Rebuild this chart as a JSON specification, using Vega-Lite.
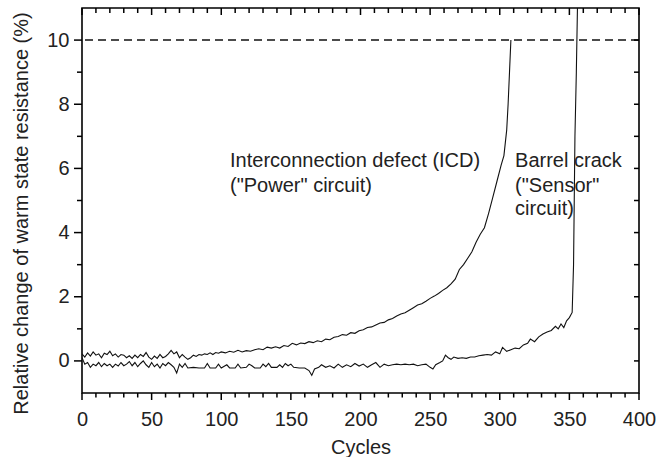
{
  "$schema": "https://vega.github.io/schema/vega-lite/v6.json",
  "width": 557,
  "height": 385,
  "autosize": {"type": "none"},
  "padding": {"left": 82, "top": 8, "right": 21, "bottom": 64},
  "background": "white",
  "config": {
    "view": {"stroke": "#000", "strokeWidth": 1.6},
    "font": "Liberation Sans",
    "axis": {
      "grid": false,
      "ticks": false,
      "tickSize": 0,
      "domain": false,
      "labelFont": "Liberation Sans",
      "labelFontSize": 20,
      "labelColor": "#222",
      "titleFont": "Liberation Sans",
      "titleFontSize": 20,
      "titleFontWeight": "normal",
      "titleColor": "#222",
      "labelOverlap": false,
      "labelFlush": false
    }
  },
  "datasets": {
    "curves": [
      {"series": "Power", "cycle": 0, "value": 0.22}, {"series": "Power", "cycle": 2, "value": 0.12}, {"series": "Power", "cycle": 4, "value": 0.25}, {"series": "Power", "cycle": 6, "value": 0.15}, {"series": "Power", "cycle": 8, "value": 0.28}, {"series": "Power", "cycle": 10, "value": 0.18}, {"series": "Power", "cycle": 12, "value": 0.22}, {"series": "Power", "cycle": 14, "value": 0.1}, {"series": "Power", "cycle": 16, "value": 0.24}, {"series": "Power", "cycle": 18, "value": 0.2}, {"series": "Power", "cycle": 20, "value": 0.3}, {"series": "Power", "cycle": 22, "value": 0.16}, {"series": "Power", "cycle": 24, "value": 0.22}, {"series": "Power", "cycle": 26, "value": 0.12}, {"series": "Power", "cycle": 28, "value": 0.2}, {"series": "Power", "cycle": 30, "value": 0.18}, {"series": "Power", "cycle": 32, "value": 0.1}, {"series": "Power", "cycle": 34, "value": 0.16}, {"series": "Power", "cycle": 36, "value": 0.08}, {"series": "Power", "cycle": 38, "value": 0.18}, {"series": "Power", "cycle": 40, "value": 0.1}, {"series": "Power", "cycle": 42, "value": 0.2}, {"series": "Power", "cycle": 44, "value": 0.14}, {"series": "Power", "cycle": 46, "value": 0.26}, {"series": "Power", "cycle": 48, "value": 0.12}, {"series": "Power", "cycle": 50, "value": 0.05}, {"series": "Power", "cycle": 52, "value": 0.15}, {"series": "Power", "cycle": 54, "value": 0.08}, {"series": "Power", "cycle": 56, "value": 0.2}, {"series": "Power", "cycle": 58, "value": 0.1}, {"series": "Power", "cycle": 60, "value": 0.14}, {"series": "Power", "cycle": 62, "value": 0.22}, {"series": "Power", "cycle": 64, "value": 0.33}, {"series": "Power", "cycle": 66, "value": 0.22}, {"series": "Power", "cycle": 68, "value": 0.28}, {"series": "Power", "cycle": 70, "value": 0.1}, {"series": "Power", "cycle": 72, "value": 0.2}, {"series": "Power", "cycle": 74, "value": 0.12}, {"series": "Power", "cycle": 76, "value": 0.05}, {"series": "Power", "cycle": 78, "value": 0.1}, {"series": "Power", "cycle": 80, "value": 0.18}, {"series": "Power", "cycle": 82, "value": 0.14}, {"series": "Power", "cycle": 84, "value": 0.2}, {"series": "Power", "cycle": 86, "value": 0.18}, {"series": "Power", "cycle": 88, "value": 0.22}, {"series": "Power", "cycle": 90, "value": 0.2}, {"series": "Power", "cycle": 92, "value": 0.25}, {"series": "Power", "cycle": 94, "value": 0.2}, {"series": "Power", "cycle": 96, "value": 0.26}, {"series": "Power", "cycle": 98, "value": 0.24}, {"series": "Power", "cycle": 100, "value": 0.28}, {"series": "Power", "cycle": 103, "value": 0.25}, {"series": "Power", "cycle": 106, "value": 0.3}, {"series": "Power", "cycle": 109, "value": 0.27}, {"series": "Power", "cycle": 112, "value": 0.33}, {"series": "Power", "cycle": 115, "value": 0.28}, {"series": "Power", "cycle": 118, "value": 0.32}, {"series": "Power", "cycle": 121, "value": 0.3}, {"series": "Power", "cycle": 124, "value": 0.35}, {"series": "Power", "cycle": 127, "value": 0.38}, {"series": "Power", "cycle": 130, "value": 0.35}, {"series": "Power", "cycle": 133, "value": 0.43}, {"series": "Power", "cycle": 136, "value": 0.4}, {"series": "Power", "cycle": 139, "value": 0.44}, {"series": "Power", "cycle": 142, "value": 0.4}, {"series": "Power", "cycle": 145, "value": 0.48}, {"series": "Power", "cycle": 148, "value": 0.45}, {"series": "Power", "cycle": 151, "value": 0.55}, {"series": "Power", "cycle": 154, "value": 0.5}, {"series": "Power", "cycle": 157, "value": 0.56}, {"series": "Power", "cycle": 160, "value": 0.54}, {"series": "Power", "cycle": 163, "value": 0.6}, {"series": "Power", "cycle": 166, "value": 0.57}, {"series": "Power", "cycle": 169, "value": 0.63}, {"series": "Power", "cycle": 172, "value": 0.6}, {"series": "Power", "cycle": 175, "value": 0.68}, {"series": "Power", "cycle": 178, "value": 0.66}, {"series": "Power", "cycle": 181, "value": 0.74}, {"series": "Power", "cycle": 184, "value": 0.76}, {"series": "Power", "cycle": 187, "value": 0.82}, {"series": "Power", "cycle": 190, "value": 0.8}, {"series": "Power", "cycle": 193, "value": 0.88}, {"series": "Power", "cycle": 196, "value": 0.86}, {"series": "Power", "cycle": 199, "value": 0.94}, {"series": "Power", "cycle": 202, "value": 0.97}, {"series": "Power", "cycle": 205, "value": 1.04}, {"series": "Power", "cycle": 208, "value": 1.06}, {"series": "Power", "cycle": 211, "value": 1.12}, {"series": "Power", "cycle": 214, "value": 1.18}, {"series": "Power", "cycle": 217, "value": 1.2}, {"series": "Power", "cycle": 220, "value": 1.28}, {"series": "Power", "cycle": 223, "value": 1.32}, {"series": "Power", "cycle": 226, "value": 1.4}, {"series": "Power", "cycle": 229, "value": 1.46}, {"series": "Power", "cycle": 232, "value": 1.5}, {"series": "Power", "cycle": 235, "value": 1.58}, {"series": "Power", "cycle": 238, "value": 1.66}, {"series": "Power", "cycle": 241, "value": 1.74}, {"series": "Power", "cycle": 244, "value": 1.78}, {"series": "Power", "cycle": 247, "value": 1.86}, {"series": "Power", "cycle": 250, "value": 1.95}, {"series": "Power", "cycle": 253, "value": 2.02}, {"series": "Power", "cycle": 256, "value": 2.1}, {"series": "Power", "cycle": 259, "value": 2.2}, {"series": "Power", "cycle": 262, "value": 2.28}, {"series": "Power", "cycle": 265, "value": 2.4}, {"series": "Power", "cycle": 268, "value": 2.55}, {"series": "Power", "cycle": 271, "value": 2.85}, {"series": "Power", "cycle": 274, "value": 3.0}, {"series": "Power", "cycle": 277, "value": 3.2}, {"series": "Power", "cycle": 280, "value": 3.4}, {"series": "Power", "cycle": 283, "value": 3.7}, {"series": "Power", "cycle": 286, "value": 3.95}, {"series": "Power", "cycle": 289, "value": 4.15}, {"series": "Power", "cycle": 292, "value": 4.6}, {"series": "Power", "cycle": 295, "value": 5.1}, {"series": "Power", "cycle": 298, "value": 5.6}, {"series": "Power", "cycle": 301, "value": 6.1}, {"series": "Power", "cycle": 303, "value": 6.4}, {"series": "Power", "cycle": 305, "value": 7.2}, {"series": "Power", "cycle": 306, "value": 8.0}, {"series": "Power", "cycle": 307, "value": 9.0}, {"series": "Power", "cycle": 308, "value": 10.0},
      {"series": "Sensor", "cycle": 0, "value": 0.1}, {"series": "Sensor", "cycle": 2, "value": -0.1}, {"series": "Sensor", "cycle": 4, "value": -0.05}, {"series": "Sensor", "cycle": 6, "value": -0.2}, {"series": "Sensor", "cycle": 8, "value": -0.1}, {"series": "Sensor", "cycle": 10, "value": -0.15}, {"series": "Sensor", "cycle": 12, "value": -0.05}, {"series": "Sensor", "cycle": 14, "value": -0.18}, {"series": "Sensor", "cycle": 16, "value": -0.08}, {"series": "Sensor", "cycle": 18, "value": -0.15}, {"series": "Sensor", "cycle": 20, "value": -0.1}, {"series": "Sensor", "cycle": 22, "value": -0.2}, {"series": "Sensor", "cycle": 24, "value": -0.1}, {"series": "Sensor", "cycle": 26, "value": -0.16}, {"series": "Sensor", "cycle": 28, "value": -0.05}, {"series": "Sensor", "cycle": 30, "value": -0.15}, {"series": "Sensor", "cycle": 32, "value": -0.1}, {"series": "Sensor", "cycle": 34, "value": -0.02}, {"series": "Sensor", "cycle": 36, "value": -0.15}, {"series": "Sensor", "cycle": 38, "value": -0.05}, {"series": "Sensor", "cycle": 40, "value": -0.18}, {"series": "Sensor", "cycle": 42, "value": -0.08}, {"series": "Sensor", "cycle": 44, "value": 0.0}, {"series": "Sensor", "cycle": 46, "value": -0.12}, {"series": "Sensor", "cycle": 48, "value": -0.2}, {"series": "Sensor", "cycle": 50, "value": -0.05}, {"series": "Sensor", "cycle": 52, "value": -0.18}, {"series": "Sensor", "cycle": 54, "value": -0.1}, {"series": "Sensor", "cycle": 56, "value": -0.22}, {"series": "Sensor", "cycle": 58, "value": -0.08}, {"series": "Sensor", "cycle": 60, "value": -0.15}, {"series": "Sensor", "cycle": 62, "value": -0.05}, {"series": "Sensor", "cycle": 64, "value": -0.12}, {"series": "Sensor", "cycle": 66, "value": -0.2}, {"series": "Sensor", "cycle": 68, "value": -0.38}, {"series": "Sensor", "cycle": 70, "value": -0.1}, {"series": "Sensor", "cycle": 72, "value": -0.2}, {"series": "Sensor", "cycle": 74, "value": -0.08}, {"series": "Sensor", "cycle": 76, "value": -0.22}, {"series": "Sensor", "cycle": 80, "value": -0.2}, {"series": "Sensor", "cycle": 84, "value": -0.22}, {"series": "Sensor", "cycle": 88, "value": -0.22}, {"series": "Sensor", "cycle": 90, "value": -0.08}, {"series": "Sensor", "cycle": 92, "value": -0.22}, {"series": "Sensor", "cycle": 96, "value": -0.22}, {"series": "Sensor", "cycle": 98, "value": -0.1}, {"series": "Sensor", "cycle": 100, "value": -0.22}, {"series": "Sensor", "cycle": 104, "value": -0.12}, {"series": "Sensor", "cycle": 106, "value": -0.22}, {"series": "Sensor", "cycle": 110, "value": -0.22}, {"series": "Sensor", "cycle": 112, "value": -0.1}, {"series": "Sensor", "cycle": 114, "value": -0.22}, {"series": "Sensor", "cycle": 118, "value": -0.2}, {"series": "Sensor", "cycle": 120, "value": -0.1}, {"series": "Sensor", "cycle": 122, "value": -0.15}, {"series": "Sensor", "cycle": 124, "value": -0.22}, {"series": "Sensor", "cycle": 128, "value": -0.22}, {"series": "Sensor", "cycle": 130, "value": -0.1}, {"series": "Sensor", "cycle": 132, "value": -0.18}, {"series": "Sensor", "cycle": 134, "value": -0.08}, {"series": "Sensor", "cycle": 136, "value": -0.2}, {"series": "Sensor", "cycle": 140, "value": -0.2}, {"series": "Sensor", "cycle": 142, "value": -0.12}, {"series": "Sensor", "cycle": 144, "value": -0.2}, {"series": "Sensor", "cycle": 146, "value": -0.08}, {"series": "Sensor", "cycle": 148, "value": -0.15}, {"series": "Sensor", "cycle": 150, "value": -0.1}, {"series": "Sensor", "cycle": 152, "value": -0.2}, {"series": "Sensor", "cycle": 156, "value": -0.22}, {"series": "Sensor", "cycle": 160, "value": -0.22}, {"series": "Sensor", "cycle": 163, "value": -0.3}, {"series": "Sensor", "cycle": 165, "value": -0.45}, {"series": "Sensor", "cycle": 167, "value": -0.25}, {"series": "Sensor", "cycle": 170, "value": -0.2}, {"series": "Sensor", "cycle": 172, "value": -0.12}, {"series": "Sensor", "cycle": 175, "value": -0.2}, {"series": "Sensor", "cycle": 178, "value": -0.15}, {"series": "Sensor", "cycle": 181, "value": -0.22}, {"series": "Sensor", "cycle": 184, "value": -0.1}, {"series": "Sensor", "cycle": 187, "value": -0.2}, {"series": "Sensor", "cycle": 190, "value": -0.12}, {"series": "Sensor", "cycle": 193, "value": -0.18}, {"series": "Sensor", "cycle": 196, "value": -0.08}, {"series": "Sensor", "cycle": 199, "value": -0.16}, {"series": "Sensor", "cycle": 202, "value": -0.1}, {"series": "Sensor", "cycle": 205, "value": -0.2}, {"series": "Sensor", "cycle": 208, "value": -0.12}, {"series": "Sensor", "cycle": 211, "value": -0.05}, {"series": "Sensor", "cycle": 214, "value": -0.2}, {"series": "Sensor", "cycle": 217, "value": -0.1}, {"series": "Sensor", "cycle": 220, "value": -0.15}, {"series": "Sensor", "cycle": 223, "value": -0.12}, {"series": "Sensor", "cycle": 226, "value": -0.1}, {"series": "Sensor", "cycle": 229, "value": -0.12}, {"series": "Sensor", "cycle": 232, "value": -0.1}, {"series": "Sensor", "cycle": 235, "value": -0.12}, {"series": "Sensor", "cycle": 238, "value": -0.1}, {"series": "Sensor", "cycle": 241, "value": -0.15}, {"series": "Sensor", "cycle": 244, "value": -0.12}, {"series": "Sensor", "cycle": 247, "value": -0.1}, {"series": "Sensor", "cycle": 250, "value": -0.2}, {"series": "Sensor", "cycle": 252, "value": -0.25}, {"series": "Sensor", "cycle": 254, "value": -0.12}, {"series": "Sensor", "cycle": 257, "value": -0.05}, {"series": "Sensor", "cycle": 259, "value": 0.0}, {"series": "Sensor", "cycle": 261, "value": 0.18}, {"series": "Sensor", "cycle": 263, "value": 0.1}, {"series": "Sensor", "cycle": 265, "value": 0.05}, {"series": "Sensor", "cycle": 267, "value": 0.12}, {"series": "Sensor", "cycle": 270, "value": 0.08}, {"series": "Sensor", "cycle": 273, "value": 0.1}, {"series": "Sensor", "cycle": 276, "value": 0.08}, {"series": "Sensor", "cycle": 279, "value": 0.12}, {"series": "Sensor", "cycle": 282, "value": 0.12}, {"series": "Sensor", "cycle": 285, "value": 0.16}, {"series": "Sensor", "cycle": 288, "value": 0.18}, {"series": "Sensor", "cycle": 291, "value": 0.2}, {"series": "Sensor", "cycle": 294, "value": 0.18}, {"series": "Sensor", "cycle": 297, "value": 0.28}, {"series": "Sensor", "cycle": 300, "value": 0.22}, {"series": "Sensor", "cycle": 302, "value": 0.42}, {"series": "Sensor", "cycle": 305, "value": 0.3}, {"series": "Sensor", "cycle": 308, "value": 0.35}, {"series": "Sensor", "cycle": 311, "value": 0.4}, {"series": "Sensor", "cycle": 314, "value": 0.38}, {"series": "Sensor", "cycle": 317, "value": 0.5}, {"series": "Sensor", "cycle": 320, "value": 0.55}, {"series": "Sensor", "cycle": 322, "value": 0.68}, {"series": "Sensor", "cycle": 325, "value": 0.6}, {"series": "Sensor", "cycle": 328, "value": 0.75}, {"series": "Sensor", "cycle": 331, "value": 0.84}, {"series": "Sensor", "cycle": 334, "value": 0.9}, {"series": "Sensor", "cycle": 337, "value": 0.95}, {"series": "Sensor", "cycle": 340, "value": 1.08}, {"series": "Sensor", "cycle": 342, "value": 1.0}, {"series": "Sensor", "cycle": 344, "value": 1.15}, {"series": "Sensor", "cycle": 346, "value": 1.04}, {"series": "Sensor", "cycle": 348, "value": 1.25}, {"series": "Sensor", "cycle": 350, "value": 1.35}, {"series": "Sensor", "cycle": 352, "value": 1.51}, {"series": "Sensor", "cycle": 353, "value": 3.0}, {"series": "Sensor", "cycle": 353.5, "value": 5.0}, {"series": "Sensor", "cycle": 354, "value": 7.0}, {"series": "Sensor", "cycle": 355, "value": 9.0}, {"series": "Sensor", "cycle": 355.8, "value": 11.0}
    ],
    "notes": [
      {"cycle": 106.3, "value": 6.04, "label": "Interconnection defect (ICD)"},
      {"cycle": 106.3, "value": 5.28, "label": "(\"Power\" circuit)"},
      {"cycle": 311, "value": 6.05, "label": "Barrel crack"},
      {"cycle": 311, "value": 5.25, "label": "(\"Sensor\""},
      {"cycle": 311, "value": 4.54, "label": "circuit)"}
    ],
    "one": [{"level": 10}],
    "xmajor": [{"cycle": 0}, {"cycle": 50}, {"cycle": 100}, {"cycle": 150}, {"cycle": 200}, {"cycle": 250}, {"cycle": 300}, {"cycle": 350}, {"cycle": 400}],
    "xminor": [
      {"cycle": 10}, {"cycle": 20}, {"cycle": 30}, {"cycle": 40}, {"cycle": 60}, {"cycle": 70}, {"cycle": 80}, {"cycle": 90},
      {"cycle": 110}, {"cycle": 120}, {"cycle": 130}, {"cycle": 140}, {"cycle": 160}, {"cycle": 170}, {"cycle": 180}, {"cycle": 190},
      {"cycle": 210}, {"cycle": 220}, {"cycle": 230}, {"cycle": 240}, {"cycle": 260}, {"cycle": 270}, {"cycle": 280}, {"cycle": 290},
      {"cycle": 310}, {"cycle": 320}, {"cycle": 330}, {"cycle": 340}, {"cycle": 360}, {"cycle": 370}, {"cycle": 380}, {"cycle": 390}
    ],
    "ymajor": [{"value": 0}, {"value": 2}, {"value": 4}, {"value": 6}, {"value": 8}, {"value": 10}],
    "yminor": [{"value": 1}, {"value": 3}, {"value": 5}, {"value": 7}, {"value": 9}],
    "yall": [{"value": 0}, {"value": 1}, {"value": 2}, {"value": 3}, {"value": 4}, {"value": 5}, {"value": 6}, {"value": 7}, {"value": 8}, {"value": 9}, {"value": 10}]
  },
  "layer": [
    {
      "data": {"name": "curves"},
      "mark": {"type": "line", "color": "#111", "strokeWidth": 1.1, "clip": true},
      "encoding": {
        "x": {
          "field": "cycle", "type": "quantitative",
          "scale": {"domain": [0, 400], "nice": false, "zero": false},
          "axis": {
            "orient": "bottom", "title": "Cycles",
            "values": [0, 50, 100, 150, 200, 250, 300, 350, 400],
            "ticks": false, "tickSize": 0,
            "labelPadding": 16,
            "titleBaseline": "alphabetic",
            "titleY": 60
          }
        },
        "y": {
          "field": "value", "type": "quantitative",
          "scale": {"domain": [-1, 11], "nice": false, "zero": false},
          "axis": {
            "orient": "left", "title": "Relative change of warm state resistance (%)",
            "values": [0, 2, 4, 6, 8, 10],
            "ticks": false, "tickSize": 0,
            "labelPadding": 13,
            "titleBaseline": "alphabetic",
            "titleX": -55,
            "titleY": 205
          }
        },
        "detail": {"field": "series"}
      }
    },
    {
      "data": {"name": "one"},
      "mark": {"type": "rule", "color": "#111", "strokeWidth": 1.5, "strokeDash": [8, 5]},
      "encoding": {"y": {"field": "level", "type": "quantitative"}}
    },
    {
      "data": {"name": "notes"},
      "mark": {"type": "text", "align": "left", "baseline": "alphabetic", "fontSize": 20, "font": "Liberation Sans", "color": "#222"},
      "encoding": {
        "x": {"field": "cycle", "type": "quantitative"},
        "y": {"field": "value", "type": "quantitative"},
        "text": {"field": "label"}
      }
    },
    {
      "data": {"name": "xmajor"},
      "mark": {"type": "rule", "color": "#000", "strokeWidth": 1.5, "y2Offset": 7},
      "encoding": {"x": {"field": "cycle", "type": "quantitative"}, "y": {"value": "height"}, "y2": {"value": "height"}}
    },
    {
      "data": {"name": "xmajor"},
      "mark": {"type": "rule", "color": "#000", "strokeWidth": 1.5, "y2Offset": 7},
      "encoding": {"x": {"field": "cycle", "type": "quantitative"}, "y": {"value": 0}, "y2": {"value": 0}}
    },
    {
      "data": {"name": "xminor"},
      "mark": {"type": "rule", "color": "#000", "strokeWidth": 1.5, "y2Offset": 4.5},
      "encoding": {"x": {"field": "cycle", "type": "quantitative"}, "y": {"value": "height"}, "y2": {"value": "height"}}
    },
    {
      "data": {"name": "xminor"},
      "mark": {"type": "rule", "color": "#000", "strokeWidth": 1.5, "y2Offset": 5},
      "encoding": {"x": {"field": "cycle", "type": "quantitative"}, "y": {"value": 0}, "y2": {"value": 0}}
    },
    {
      "data": {"name": "ymajor"},
      "mark": {"type": "rule", "color": "#000", "strokeWidth": 1.5, "x2Offset": -8},
      "encoding": {"y": {"field": "value", "type": "quantitative"}, "x": {"value": 0}, "x2": {"value": 0}}
    },
    {
      "data": {"name": "yminor"},
      "mark": {"type": "rule", "color": "#000", "strokeWidth": 1.5, "x2Offset": -5},
      "encoding": {"y": {"field": "value", "type": "quantitative"}, "x": {"value": 0}, "x2": {"value": 0}}
    },
    {
      "data": {"name": "yall"},
      "mark": {"type": "rule", "color": "#000", "strokeWidth": 1.5, "x2Offset": -5},
      "encoding": {"y": {"field": "value", "type": "quantitative"}, "x": {"value": "width"}, "x2": {"value": "width"}}
    }
  ]
}
